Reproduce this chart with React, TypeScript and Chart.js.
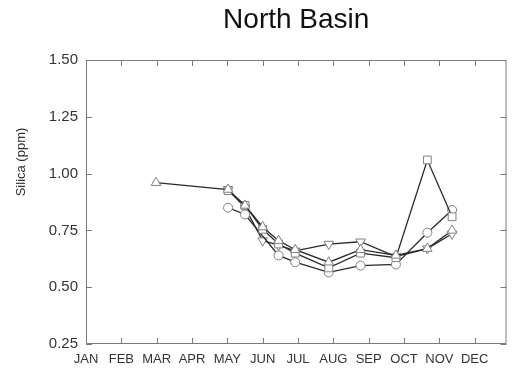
import React, { useEffect, useRef } from "react";
import { Chart, registerables } from "chart.js";

Chart.register(...registerables);

const monthLabels = ["JAN", "FEB", "MAR", "APR", "MAY", "JUN", "JUL", "AUG", "SEP", "OCT", "NOV", "DEC"];
const yTicks = [0.25, 0.5, 0.75, 1.0, 1.25, 1.5];
// sampling dates in months since Jan 1
const sampleMonths = [1.98, 4.02, 4.5, 5.0, 5.45, 5.92, 6.87, 7.77, 8.77, 9.66, 10.36];
const triUpValues = [0.96, 0.93, 0.86, 0.765, 0.705, 0.665, 0.61, 0.665, 0.64, 0.67, 0.75];
const squareValues = [null, 0.925, 0.86, 0.755, 0.69, 0.65, 0.585, 0.65, 0.63, 1.06, 0.81];
const circleValues = [null, 0.85, 0.82, null, 0.64, 0.61, 0.565, 0.595, 0.6, 0.74, 0.84];
const triDownValues = [null, 0.93, 0.85, 0.705, 0.685, 0.66, 0.69, 0.7, 0.635, 0.67, 0.735];

const FONT = '"Liberation Sans", Arial, Helvetica, sans-serif';

function toPoints(vals: (number | null)[]) {
  const pts: { x: number; y: number }[] = [];
  vals.forEach((v, i) => {
    if (v !== null) pts.push({ x: sampleMonths[i], y: v });
  });
  return pts;
}

const framePlugin = {
  id: "frame",
  beforeDatasetsDraw(chart: any) {
    const { ctx, chartArea, scales } = chart;
    const { left, right, top, bottom } = chartArea;
    ctx.save();
    ctx.strokeStyle = "#7a7a7a";
    ctx.lineWidth = 1;
    ctx.beginPath();
    ctx.rect(left + 0.5, top + 0.5, right - left - 1, bottom - top - 1);
    ctx.stroke();
    const tl = 6;
    ctx.beginPath();
    monthLabels.forEach((_, i) => {
      if (i === 0) return;
      const x = Math.round(scales.x.getPixelForValue(i)) + 0.5;
      ctx.moveTo(x, bottom);
      ctx.lineTo(x, bottom - tl);
      ctx.moveTo(x, top);
      ctx.lineTo(x, top + tl);
    });
    yTicks.forEach((v) => {
      const y = Math.round(scales.y.getPixelForValue(v)) + 0.5;
      ctx.moveTo(left, y);
      ctx.lineTo(left + tl, y);
      ctx.moveTo(right, y);
      ctx.lineTo(right - tl, y);
    });
    ctx.stroke();
    ctx.restore();
  },
  afterDraw(chart: any) {
    const { ctx, chartArea } = chart;
    ctx.save();
    ctx.fillStyle = "#111";
    ctx.font = `28px ${FONT}`;
    ctx.textAlign = "center";
    ctx.textBaseline = "middle";
    ctx.fillText("North Basin", (chartArea.left + chartArea.right) / 2, 20);
    ctx.translate(21, 162);
    ctx.rotate(-Math.PI / 2);
    ctx.font = `13px ${FONT}`;
    ctx.fillStyle = "#333";
    ctx.fillText("Silica (ppm)", 0, 0);
    ctx.restore();
  },
};

function ds(label: string, vals: (number | null)[], style: string, radius: number, rotation = 0) {
  return {
    label,
    data: toPoints(vals),
    borderColor: "#2a2a2a",
    borderWidth: 1.3,
    pointStyle: style,
    pointRotation: rotation,
    pointRadius: radius,
    pointBorderColor: "#808080",
    pointBorderWidth: 1,
    pointBackgroundColor: "#ffffff",
    fill: false,
    tension: 0,
  };
}

export default function App() {
  const ref = useRef<HTMLCanvasElement>(null);
  useEffect(() => {
    if (!ref.current) return;
    const chart = new Chart(ref.current, {
      type: "line",
      data: {
        datasets: [
          ds("Triangle", triUpValues, "triangle", 5.5),
          ds("Square", squareValues, "rect", 5.5),
          ds("Circle", circleValues, "circle", 4.5),
          ds("Inverted triangle", triDownValues, "triangle", 5.5, 180),
        ] as any,
      },
      options: {
        responsive: false,
        devicePixelRatio: 1,
        animation: false,
        layout: { padding: { top: 60, right: 1, left: 0, bottom: 0 } },
        plugins: { legend: { display: false }, tooltip: { enabled: false }, title: { display: false } },
        scales: {
          x: {
            type: "linear",
            min: 0,
            max: 11.9,
            grid: { display: false, drawTicks: false },
            border: { display: false },
            afterBuildTicks: (s: any) => {
              s.ticks = monthLabels.map((_, i) => ({ value: i }));
            },
            afterFit: (s: any) => {
              s.height = 25;
            },
            ticks: {
              autoSkip: false,
              maxRotation: 0,
              padding: 8,
              color: "#333",
              font: { family: FONT, size: 13 },
              callback: (v: any) => monthLabels[v as number] ?? "",
            },
          },
          y: {
            type: "linear",
            min: 0.25,
            max: 1.5,
            grid: { display: false, drawTicks: false },
            border: { display: false },
            afterBuildTicks: (s: any) => {
              s.ticks = yTicks.map((v) => ({ value: v }));
            },
            afterFit: (s: any) => {
              s.width = 86;
            },
            ticks: {
              padding: 8,
              color: "#333",
              font: { family: FONT, size: 15 },
              callback: (v: any) => Number(v).toFixed(2),
            },
          },
        },
      },
      plugins: [framePlugin],
    });
    return () => chart.destroy();
  }, []);
  return (
    <div style={{ position: "absolute", left: 0, top: 0, width: 513, height: 369, background: "#fff" }}>
      <canvas ref={ref} width={513} height={369} style={{ display: "block" }} />
    </div>
  );
}
